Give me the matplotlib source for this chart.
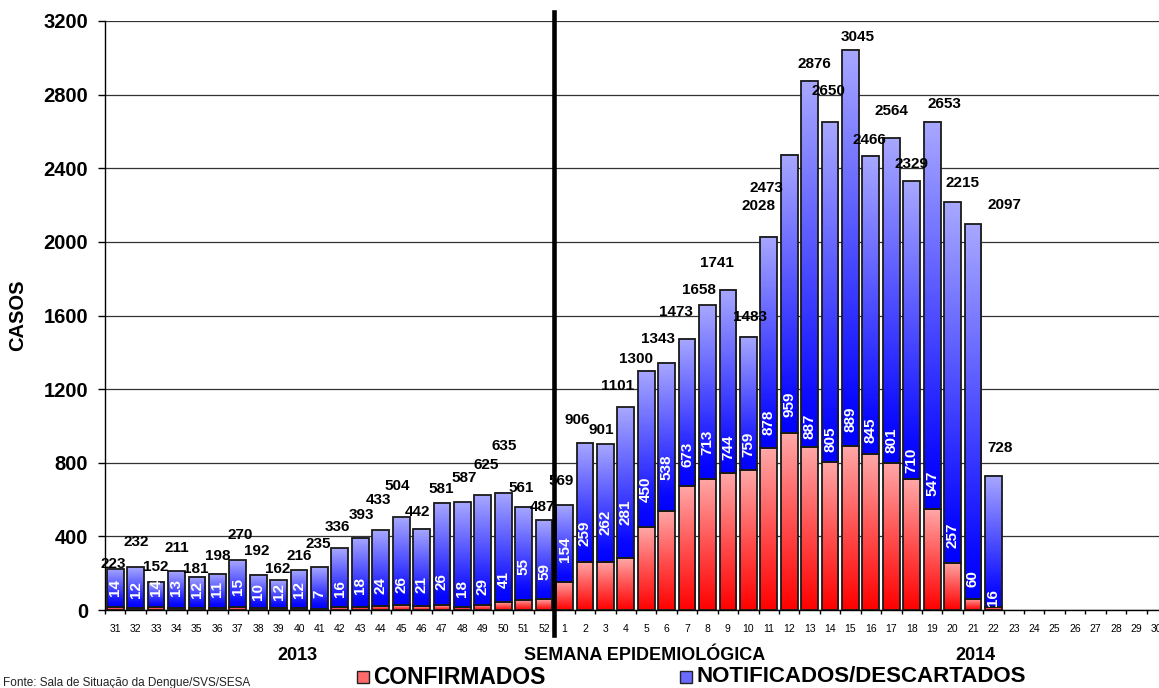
import matplotlib.pyplot as plt
import numpy as np
from matplotlib.colors import LinearSegmentedColormap
from matplotlib.patches import Rectangle

plt.rcParams['font.family'] = ['Liberation Sans', 'DejaVu Sans']

# semanas epidemiologicas: 31-52 de 2013 e 1-30 de 2014
semanas = [str(s) for s in range(31, 53)] + [str(s) for s in range(1, 31)]

total_2013 = [223, 232, 152, 211, 181, 198, 270, 192, 162, 216, 235,
              336, 393, 433, 504, 442, 581, 587, 625, 635, 561, 487]
confirmados_2013 = [14, 12, 14, 13, 12, 11, 15, 10, 12, 12, 7,
                    16, 18, 24, 26, 21, 26, 18, 29, 41, 55, 59]

total_2014 = [569, 906, 901, 1101, 1300, 1343, 1473, 1658, 1741, 1483, 2028,
              2473, 2876, 2650, 3045, 2466, 2564, 2329, 2653, 2215, 2097, 728]
confirmados_2014 = [154, 259, 262, 281, 450, 538, 673, 713, 744, 759, 878,
                    959, 887, 805, 889, 845, 801, 710, 547, 257, 60, 16]

total = total_2013 + total_2014
confirmados = confirmados_2013 + confirmados_2014

# deslocamento dos rotulos (px), como estao no grafico original
tot_dx = [-2, 1, 0, 0, -1, 0, 2, -1, -1, 0, -1, -2, 1, -2, -4, -4, -1, 2, 3, 1, -3, -2,
          -3, -8, -4, -8, -10, -9, -11, -9, -11, 2, -10, -23, 5, -2, 7, -1, 0, 0, 12, 10, 31, 7]
tot_dy = [5, 25, 15, 23, 8, 18, 25, 24, 11, 14, 23, 21, 23, 30, 31, 17, 14, 24, 30, 47, 19, 13,
          24, 23, 14, 21, 12, 24, 27, 15, 27, 20, 31, -33, 17, 31, 13, 16, 27, 17, 18, 19, 19, 28]
conf_dy = [11, 10, 11, 12, 10, 11, 12, 8, 8, 10, 11, 10, 13, 12, 12, 13, 15, 10, 10, 14, 25, 19,
           20, 16, 27, 33, 25, 31, 19, 24, 13, 13, 13, 16, 8, 10, 14, 11, 10, 6, 13, 15, 12, 1]

W, H = 1159, 688
fig = plt.figure(figsize=(W / 100, H / 100), dpi=100)
ax = fig.add_axes([105 / W, 1 - 610 / H, 1062 / W, 589 / H])

red_cm = LinearSegmentedColormap.from_list('r', ['#FF0000', '#FF5050', '#FFA8A8'])
blue_cm = LinearSegmentedColormap.from_list('b', [(0, '#0000FF'), (0.12, '#0A0AFF'), (1, '#A8A8FF')])
grad = np.linspace(0, 1, 256).reshape(-1, 1)

px = 0.72  # pontos por pixel
w = 0.82
for i, (t, c) in enumerate(zip(total, confirmados)):
    # parte vermelha (confirmados)
    ax.imshow(grad, extent=[i - w / 2, i + w / 2, 0, c], origin='lower',
              cmap=red_cm, aspect='auto', zorder=2, interpolation='bilinear')
    ax.bar(i, c, width=w, fill=False, edgecolor='#1a1a1a', lw=1.3, zorder=3)
    # parte azul (notificados/descartados)
    ax.imshow(grad, extent=[i - w / 2, i + w / 2, c, t], origin='lower',
              cmap=blue_cm, aspect='auto', zorder=2, interpolation='bilinear')
    ax.bar(i, t - c, bottom=c, width=w, fill=False, edgecolor='#1a1a1a', lw=1.3, zorder=3)

    ax.annotate(str(t), (i, t), xytext=(tot_dx[i] * px, tot_dy[i] * px),
                textcoords='offset points', ha='center', va='center',
                fontsize=11, weight='bold', zorder=5)
    ax.annotate(str(c), (i, c), xytext=(0, conf_dy[i] * px), textcoords='offset points',
                ha='center', va='bottom', rotation=90, color='white',
                fontsize=11, weight='bold', zorder=5)

# linha divisoria entre 2013 e 2014
ax.plot([21.5, 21.5], [-136, 3249], color='black', lw=3.3, clip_on=False, zorder=6)

ax.set_xlim(-0.5, len(semanas) - 0.5)
ax.set_ylim(0, 3200)
ax.set_xticks(np.arange(len(semanas)))
ax.set_xticklabels(semanas, fontsize=7.5)
ax.set_xticks(np.arange(-0.5, len(semanas), 1), minor=True)
ax.tick_params(axis='x', which='major', length=0, pad=10)
ax.tick_params(axis='x', which='minor', length=3, width=1, direction='out')
ax.set_yticks(range(0, 3201, 400))
ax.tick_params(axis='y', length=5, width=1, pad=7, labelsize=14.5)
for lab in ax.get_yticklabels():
    lab.set_fontweight('bold')

ax.yaxis.grid(True, color='#333333', lw=0.9)
ax.set_axisbelow(True)
ax.spines['top'].set_visible(False)
ax.spines['right'].set_visible(False)
ax.spines['left'].set_linewidth(1)
ax.spines['bottom'].set_linewidth(1)

fig.text(18 / W, 1 - 315 / H, 'CASOS', rotation=90, fontsize=14.5, weight='bold',
         ha='center', va='center')
fig.text(297 / W, 1 - 655 / H, '2013', fontsize=13, weight='bold', ha='center', va='center')
fig.text(645 / W, 1 - 655 / H, 'SEMANA EPIDEMIOLÓGICA', fontsize=13, weight='bold',
         ha='center', va='center')
fig.text(975 / W, 1 - 655 / H, '2014', fontsize=13, weight='bold', ha='center', va='center')

# legenda
fig.patches.append(Rectangle((357 / W, 1 - 683 / H), 12 / W, 12 / H, transform=fig.transFigure,
                             facecolor='#FF6A6A', edgecolor='#222222', lw=1))
fig.text(373 / W, 1 - 677 / H, 'CONFIRMADOS', fontsize=16.5, weight='bold', ha='left', va='center')
fig.patches.append(Rectangle((680 / W, 1 - 683 / H), 12 / W, 12 / H, transform=fig.transFigure,
                             facecolor='#6A6AFF', edgecolor='#222222', lw=1))
fig.text(697 / W, 1 - 677 / H, 'NOTIFICADOS/DESCARTADOS', fontsize=16, weight='bold',
         ha='left', va='center')

fig.text(3 / W, 1 - 683 / H, 'Fonte: Sala de Situação da Dengue/SVS/SESA', fontsize=8.5,
         color='#222222', ha='left', va='center')

fig.savefig('out.png', dpi=100)
